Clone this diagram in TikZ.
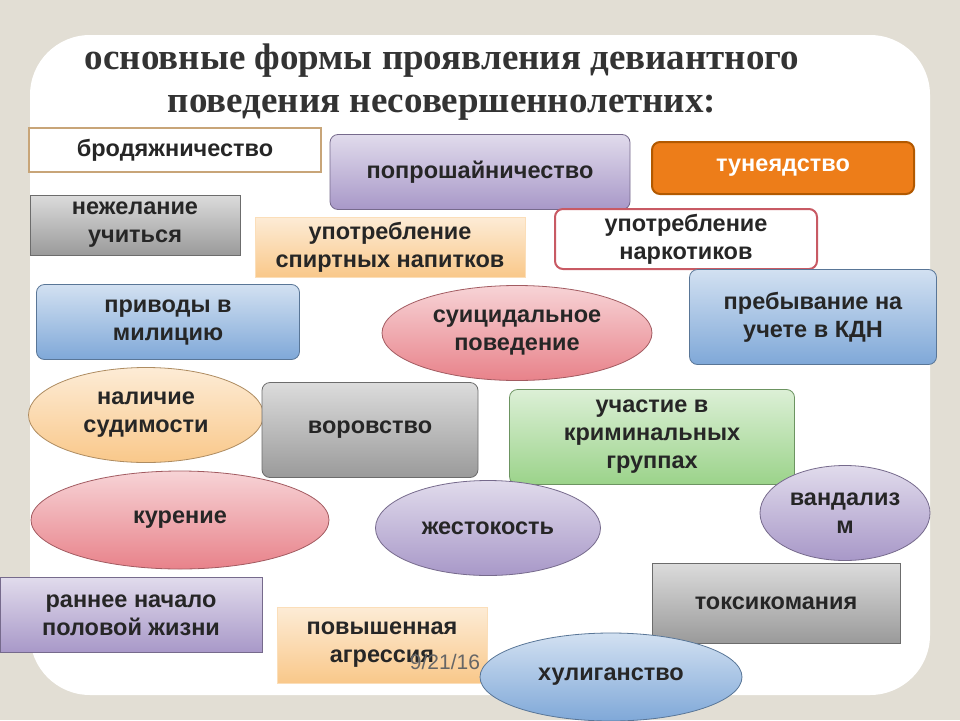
\documentclass[tikz,border=0pt]{standalone}
\usepackage{fontspec}
\setmainfont{Liberation Sans}
\newfontfamily\titlefont{Liberation Serif}
\usetikzlibrary{shapes.geometric}
\begin{document}
\begin{tikzpicture}[x=1pt,y=-1pt,
  lbl/.style={font=\bfseries\fontsize{23.5}{28}\selectfont, align=center, text=black!85, inner sep=1pt},
  rbox/.style={lbl, draw=#1!70!black, rounded corners=8pt, line width=0.8pt},
  sbox/.style={lbl, draw=#1!70!black, line width=0.8pt},
  ell/.style={lbl, ellipse, draw=#1!70!black, line width=0.8pt},
  gr/.style={top color=#1!35, bottom color=#1}
]
\definecolor{lav}{HTML}{A898C8}
\definecolor{blu}{HTML}{7FA8D8}
\definecolor{pnk}{HTML}{E8828A}
\definecolor{org}{HTML}{F9C88A}
\definecolor{grn}{HTML}{9BD38A}
\definecolor{gry}{HTML}{9A9A9A}
\useasboundingbox (0,0) rectangle (960,720);
\fill[color={rgb,255:red,226;green,222;blue,212}] (0,0) rectangle (960,720);
\fill[white, rounded corners=60pt] (30,35) rectangle (930,695);
\node[font=\titlefont\bfseries\fontsize{37}{43}\selectfont, text=black!80, align=center] (title) at (442,82) {основные формы проявления девиантного\\поведения несовершеннолетних:};

\node[sbox=brown, draw={rgb,255:red,200;green,165;blue,120}, line width=2.5pt, fill=white, minimum width=292, minimum height=44] (a1) at (175,150) {бродяжничество};
\node[rbox=lav, gr=lav, minimum width=300, minimum height=75] (a2) at (480,172) {попрошайничество};
\node[rbox=orange, fill={rgb,255:red,237;green,125;blue,25}, text=white, line width=2pt, minimum width=262, minimum height=52] (a3) at (783,168) {тунеядство};
\node[sbox=gry, gr=gry, minimum width=210, minimum height=60] (b1) at (135,225) {нежелание\\учиться};
\node[sbox=org, gr=org, draw=org!60, minimum width=270, minimum height=60] (b2) at (390,247) {употребление\\спиртных напитков};
\node[rbox=pnk, fill=white, draw={rgb,255:red,200;green,90;blue,100}, line width=2pt, minimum width=262, minimum height=60] (b3) at (686,239) {употребление\\наркотиков};
\node[rbox=blu, gr=blu, minimum width=263, minimum height=75] (c1) at (168,322) {приводы в\\милицию};
\node[ell=pnk, gr=pnk, minimum width=270, minimum height=95, inner sep=0pt] (c2) at (517,333) {суицидальное\\поведение};
\node[rbox=blu, gr=blu, minimum width=247, minimum height=95] (c3) at (813,317) {пребывание на\\учете в КДН};
\node[ell=org, gr=org, minimum width=235, minimum height=95, inner sep=0pt] (d1) at (146,415) {наличие\\судимости};
\node[rbox=gry, gr=gry, minimum width=216, minimum height=95] (d2) at (370,430) {воровство};
\node[rbox=grn, gr=grn, minimum width=285, minimum height=95] (d3) at (652,437) {участие в\\криминальных\\группах};
\node[ell=pnk, gr=pnk, minimum width=298, minimum height=98] (e1) at (180,520) {курение};
\node[ell=lav, gr=lav, minimum width=225, minimum height=95] (e2) at (488,528) {жестокость};
\node[ell=lav, gr=lav, minimum width=170, minimum height=95, inner sep=0pt] (e3) at (845,513) {вандализ\\м};
\node[sbox=lav, gr=lav, minimum width=262, minimum height=75] (f1) at (131,615) {раннее начало\\половой жизни};
\node[sbox=gry, gr=gry, minimum width=248, minimum height=80] (f2) at (776,603) {токсикомания};
\node[sbox=org, gr=org, draw=org!60, minimum width=210, minimum height=76] (f3) at (382,645) {повышенная\\агрессия};
\node[ell=blu, gr=blu, minimum width=262, minimum height=88] (g1) at (611,677) {хулиганство};
\node[font=\fontsize{21}{24}\selectfont, text=black!60] (date) at (445,662) {9/21/16};
\end{tikzpicture}
\end{document}
